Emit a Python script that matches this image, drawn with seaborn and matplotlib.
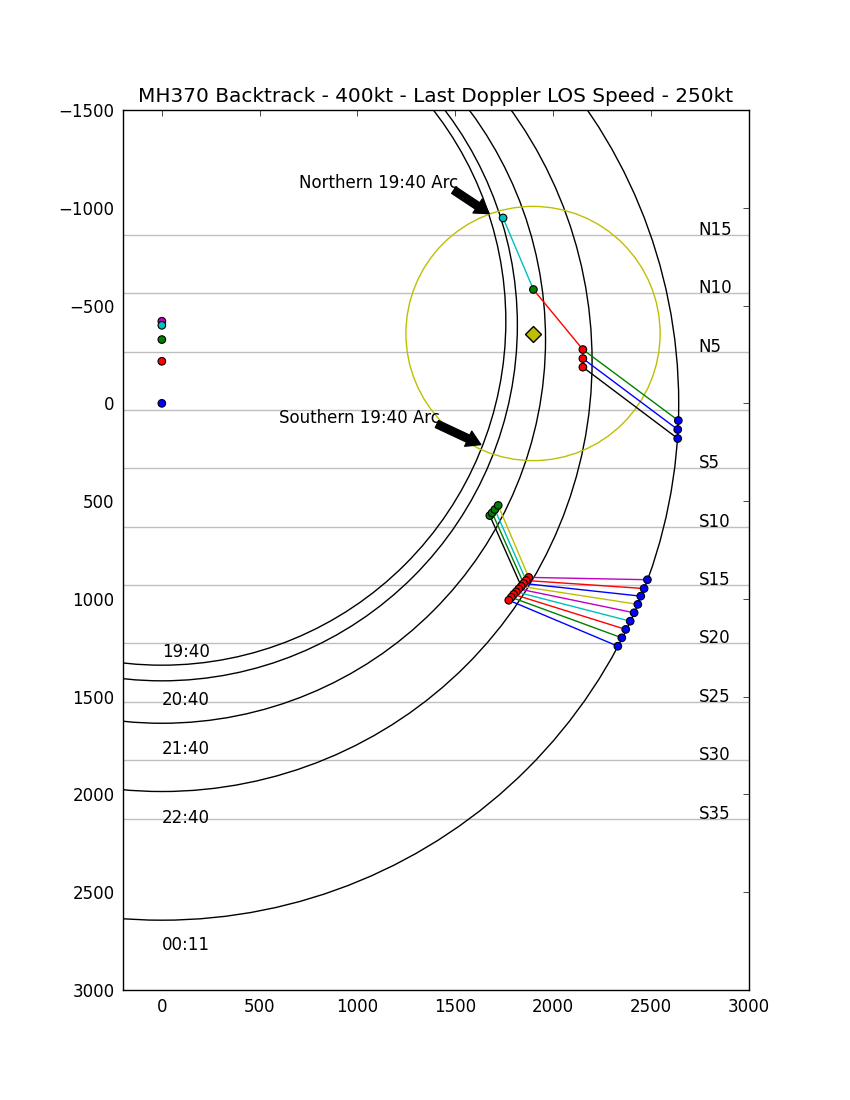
import numpy as np
import pandas as pd
import matplotlib
matplotlib.use("Agg")
import matplotlib.pyplot as plt
from matplotlib.patches import Circle
import seaborn as sns

# ---------------- data ----------------
title = "MH370 Backtrack - 400kt - Last Doppler LOS Speed - 250kt"

# satellite sub-points (plotted at x = 0) and ping-arc radii
sat_times = ["19:40", "20:40", "21:40", "22:40", "00:11"]
sat_y = [-420, -399, -326, -215, 0]
sat_colors = ["m", "c", "g", "r", "b"]
arc_radius = [1759, 1818, 1962, 2200, 2643]
time_label_y = [1296, 1541, 1792, 2144, 2793]

# latitude lines
lat_names = ["N15", "N10", "N5", "", "S5", "S10", "S15", "S20", "S25", "S30", "S35"]
lat_y = [-861, -562, -264, 34, 333, 631, 930, 1228, 1527, 1825, 2124]
lat_label_x = 2745

# search circle and its centre marker
search_x = 1898
search_y = -357
search_r = 650

# northern track points
north_x = [1745, 1900, 2153, 2153, 2153, 2641, 2638, 2638]
north_y = [-948, -582, -275, -229, -185, 88, 134, 180]
north_stage = ["c", "g", "r", "r", "r", "b", "b", "b"]
north_seg_from = [0, 1, 2, 3, 4]
north_seg_to = [1, 2, 5, 6, 7]
north_seg_col = ["c", "r", "g", "b", "k"]

# southern track: 21:40 (green), 22:40 (red), 00:11 (blue) points
south_g_x = [1677, 1689, 1703, 1720]
south_g_y = [574, 560, 543, 522]
south_r_x = [1876, 1863, 1850, 1838, 1825, 1812, 1799, 1787, 1774]
south_r_y = [890, 906, 921, 936, 949, 964, 977, 992, 1007]
south_b_x = [2483, 2466, 2449, 2434, 2415, 2395, 2372, 2352, 2332]
south_b_y = [902, 947, 986, 1028, 1071, 1114, 1156, 1199, 1242]
south_gr_to = [3, 2, 1, 0]           # green i -> red index
south_gr_col = ["k", "g", "c", "y"]
south_rb_col = ["m", "r", "b", "y", "m", "c", "r", "g", "b"]

# annotations: text position, arrow start, arrow tip
ann_text = ["Northern 19:40 Arc", "Southern 19:40 Arc"]
ann_text_x = [700, 600]
ann_text_y = [-1100, 100]
ann_from_x = [1493, 1407]
ann_from_y = [-1090, 106]
ann_to_x = [1674, 1631]
ann_to_y = [-970, 211]

x_ticks = [0, 500, 1000, 1500, 2000, 2500, 3000]
y_ticks = [-1500, -1000, -500, 0, 500, 1000, 1500, 2000, 2500, 3000]

# ---------------- style ----------------
sns.set_style("white")
plt.rcParams.update({
    "font.family": ["DejaVu Sans"],
    "font.size": 12,
    "text.color": "black",
    "axes.labelcolor": "black",
    "axes.titlecolor": "black",
    "xtick.labelsize": 12,
    "ytick.labelsize": 12,
    "xtick.direction": "in",
    "ytick.direction": "in",
    "xtick.top": True,
    "ytick.right": True,
    "xtick.major.size": 4,
    "ytick.major.size": 4,
    "xtick.major.width": 0.5,
    "ytick.major.width": 0.5,
    "xtick.major.pad": 6,
    "ytick.major.pad": 6,
    "axes.linewidth": 1.0,
    "axes.edgecolor": "black",
    "xtick.color": "black",
    "ytick.color": "black",
})

fig, ax = plt.subplots(figsize=(8.5, 11), dpi=100)
fig.subplots_adjust(left=0.125, right=0.9, bottom=0.1, top=0.9)

# latitude lines and labels
for name, yv in zip(lat_names, lat_y):
    ax.axhline(yv, color="#bfbfbf", lw=1.0, zorder=1)
    if name:
        ax.text(lat_label_x, yv, name, fontsize=12, va="baseline", ha="left", color="black")

# ping arcs
for yc, r in zip(sat_y, arc_radius):
    ax.add_patch(Circle((0, yc), r, fill=False, ec="black", lw=1.0, zorder=2))

# time labels
for t, yv in zip(sat_times, time_label_y):
    ax.text(0, yv, t, fontsize=12, va="baseline", ha="left", color="black")

# search circle + diamond
ax.add_patch(Circle((search_x, search_y), search_r, fill=False, ec="y", lw=1.0, zorder=2))
ax.plot([search_x], [search_y], marker="D", color="y", mec="k", mew=1, ms=8, zorder=5)

# track segments
for a, b, c in zip(north_seg_from, north_seg_to, north_seg_col):
    ax.plot([north_x[a], north_x[b]], [north_y[a], north_y[b]], color=c, lw=1, zorder=3)
for i, (j, c) in enumerate(zip(south_gr_to, south_gr_col)):
    ax.plot([south_g_x[i], south_r_x[j]], [south_g_y[i], south_r_y[j]], color=c, lw=1, zorder=3)
for i, c in enumerate(south_rb_col):
    ax.plot([south_r_x[i], south_b_x[i]], [south_r_y[i], south_b_y[i]], color=c, lw=1, zorder=3)

# markers via seaborn
pts = pd.DataFrame({
    "x": [0] * len(sat_y) + north_x + south_g_x + south_r_x + south_b_x,
    "y": sat_y + north_y + south_g_y + south_r_y + south_b_y,
    "stage": sat_colors + north_stage + ["g"] * len(south_g_x) + ["r"] * len(south_r_x) + ["b"] * len(south_b_x),
})
palette = {"m": (0.75, 0, 0.75), "c": (0, 0.75, 0.75), "g": (0, 0.5, 0), "r": (1, 0, 0), "b": (0, 0, 1)}
sns.scatterplot(data=pts, x="x", y="y", hue="stage", palette=palette, s=30,
                edgecolor="black", linewidth=0.8, legend=False, ax=ax, zorder=4)

# annotations
for txt, tx, ty, fx, fy, ex, ey in zip(ann_text, ann_text_x, ann_text_y,
                                       ann_from_x, ann_from_y, ann_to_x, ann_to_y):
    ax.text(tx, ty, txt, fontsize=12, color="black", va="baseline", ha="left")
    ax.annotate("", xy=(ex, ey), xytext=(fx, fy),
                arrowprops=dict(facecolor="black", edgecolor="black", shrink=0.0,
                                width=5.5, headwidth=12, headlength=10))

ax.set_xlim(-200, 3000)
ax.set_ylim(3000, -1500)
ax.set_aspect("equal")
ax.set_xticks(x_ticks)
ax.set_yticks(y_ticks)
ax.set_xlabel("")
ax.set_ylabel("")
ax.set_title(title, fontsize=14.4, pad=6, color="black")
for s in ax.spines.values():
    s.set_visible(True)
    s.set_color("black")

fig.savefig("out.png", dpi=100)
